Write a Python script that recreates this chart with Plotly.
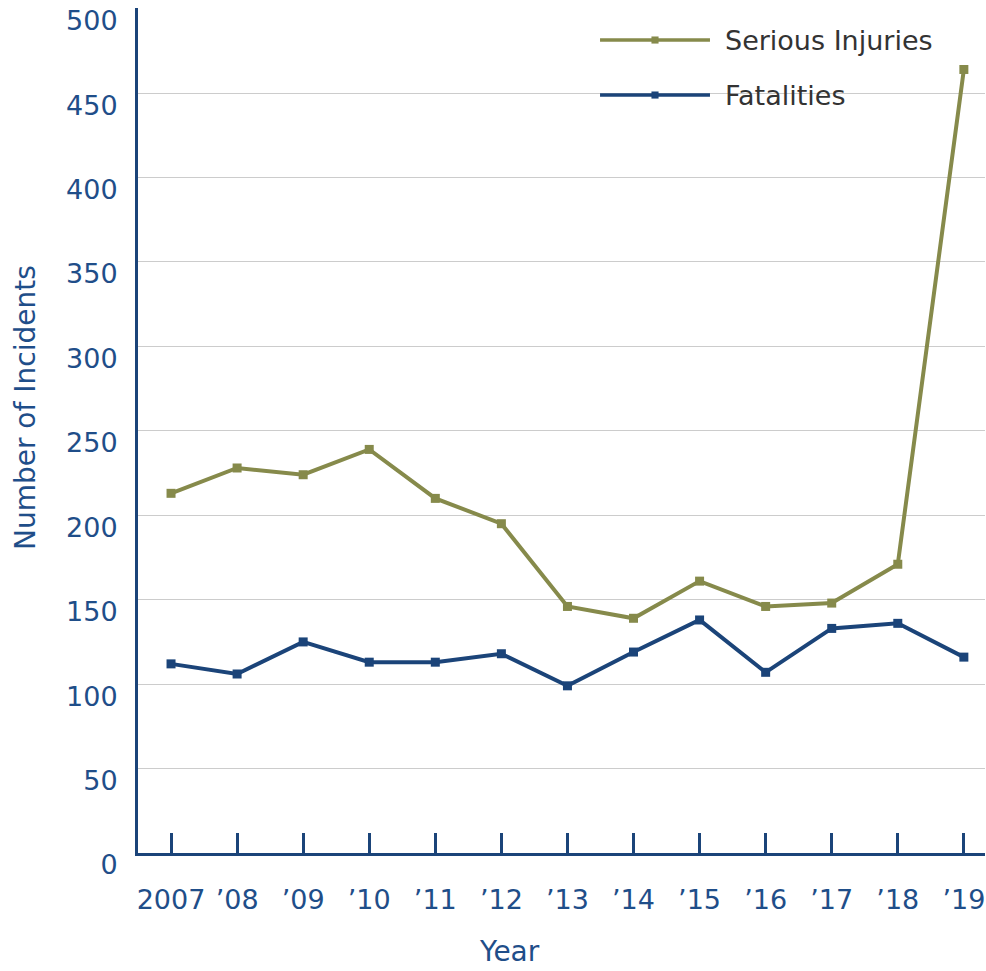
import plotly.graph_objects as go

years = ["2007", "’08", "’09", "’10", "’11", "’12", "’13", "’14", "’15", "’16", "’17", "’18", "’19"]
serious_injuries = [213, 228, 224, 239, 210, 195, 146, 139, 161, 146, 148, 171, 464]
fatalities = [112, 106, 125, 113, 113, 118, 99, 119, 138, 107, 133, 136, 116]
series_names = ["Serious Injuries", "Fatalities"]
y_ticks = [0, 50, 100, 150, 200, 250, 300, 350, 400, 450, 500]

OLIVE = "#868A4B"
NAVY = "#1B4479"
TXT = "#1F4E89"
FONT = "DejaVu Sans, sans-serif"

x_idx = list(range(len(years)))

fig = go.Figure()
for name, vals, col in [(series_names[0], serious_injuries, OLIVE),
                        (series_names[1], fatalities, NAVY)]:
    fig.add_trace(go.Scatter(
        x=x_idx, y=vals, mode="lines+markers", name=name,
        line=dict(color=col, width=4),
        marker=dict(symbol="square", size=9, color=col),
        showlegend=False, cliponaxis=False,
    ))

fig.update_xaxes(
    range=[-0.5, 12.32], tickmode="array", tickvals=x_idx, ticktext=years,
    ticks="inside", ticklen=20, tickwidth=3, tickcolor=NAVY,
    showline=True, linecolor=NAVY, linewidth=3,
    showgrid=False, zeroline=False,
    tickfont=dict(family=FONT, size=27, color=TXT),
    ticklabelstandoff=21,
)
fig.update_yaxes(
    range=[0, 500.4], tickmode="array", tickvals=y_ticks,
    ticks="", showline=True, linecolor=NAVY, linewidth=3,
    showgrid=True, gridcolor="#CCCCCC", gridwidth=1.3, zeroline=False,
    tickfont=dict(family=FONT, size=27, color=TXT),
    ticklabelstandoff=12, ticklabelshift=12,
)

annotations = [
    dict(text="Number of Incidents", textangle=-90, xref="paper", yref="paper",
         x=-0.1334, y=0.5266, showarrow=False,
         font=dict(family=FONT, size=28, color=TXT), xanchor="center", yanchor="middle"),
    dict(text="Year", xref="paper", yref="paper", x=0.439, y=-0.117, showarrow=False,
         font=dict(family=FONT, size=28, color=TXT), xanchor="center", yanchor="middle"),
]
shapes = []
for name, col, ly in [(series_names[0], OLIVE, 0.9621), (series_names[1], NAVY, 0.897)]:
    shapes.append(dict(type="line", xref="paper", yref="paper", x0=0.5455, x1=0.6753,
                       y0=ly, y1=ly, line=dict(color=col, width=3.5)))
    shapes.append(dict(type="rect", xref="paper", yref="paper",
                       x0=0.6104 - 0.0042, x1=0.6104 + 0.0042,
                       y0=ly - 0.0042, y1=ly + 0.0042,
                       line=dict(width=0), fillcolor=col))
    annotations.append(dict(text=name, xref="paper", yref="paper", x=0.6907, y=ly,
                            showarrow=False, xanchor="left", yanchor="middle",
                            font=dict(family=FONT, size=27, color="#333333")))

fig.update_layout(
    width=986, height=971,
    margin=dict(l=138, r=1, t=8, b=118),
    paper_bgcolor="white", plot_bgcolor="white",
    annotations=annotations, shapes=shapes,
    showlegend=False,
)

fig.write_html(
    "out.html",
    config={"displayModeBar": False},
    post_script="document.body.style.margin='0';document.body.style.overflow='hidden';",
)
